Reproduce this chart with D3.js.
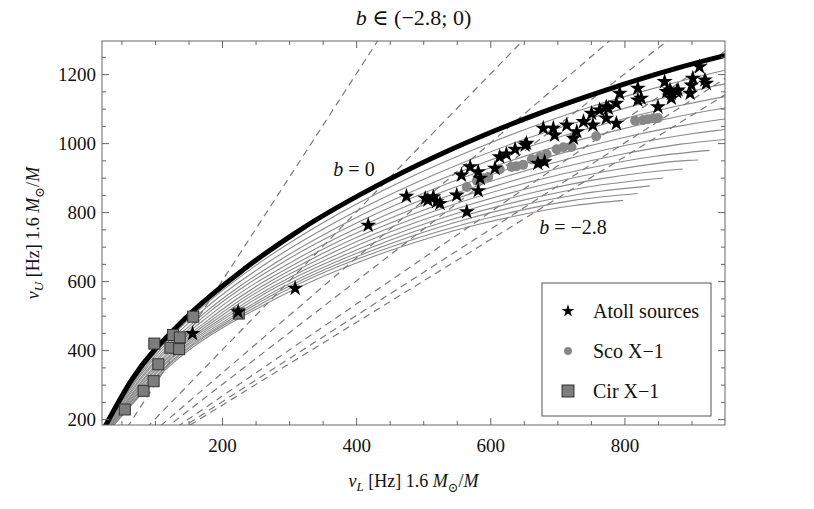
<!DOCTYPE html>
<html>
<head>
<meta charset="utf-8">
<script src="https://cdn.jsdelivr.net/npm/d3@7"></script>
<style>
  body { margin: 0; background: #ffffff; }
  text { font-family: "Liberation Serif", "DejaVu Serif", serif; fill: #111; }
</style>
</head>
<body>
<div id="chart"></div>
<script>
// tidal charge values of the model curves
var bValues = [0, -0.2, -0.4, -0.6, -0.8, -1.0, -1.2, -1.4, -1.6, -1.8, -2.0, -2.2, -2.4, -2.6, -2.8];

// [nuL, nuU] points along each curve, same order as bValues
var curves = [
  [[21,162],[66,316],[142,486],[235,638],[316,748],[446,892],[543,983],[678,1090],[768,1151],[880,1218],[998,1277]],
  [[22,162],[70,317],[151,490],[250,645],[339,756],[483,903],[594,996],[751,1106],[837,1155],[945,1209],[1053,1252]],
  [[23,163],[73,319],[159,494],[266,651],[363,764],[523,914],[648,1009],[732,1062],[838,1121],[919,1159],[985,1185]],
  [[23,164],[76,321],[168,498],[283,657],[388,772],[565,925],[710,1022],[788,1065],[888,1111],[990,1149]],
  [[24,164],[80,323],[176,502],[299,664],[413,780],[611,936],[782,1034],[855,1067],[950,1102],[1051,1126]],
  [[25,165],[83,325],[185,506],[317,670],[440,788],[532,861],[662,946],[732,984],[819,1025],[875,1047],[946,1069],[1022,1085]],
  [[26,165],[87,327],[194,509],[334,676],[468,796],[571,870],[721,957],[808,996],[876,1020],[939,1037],[1000,1048]],
  [[27,166],[90,329],[203,513],[352,682],[498,804],[613,879],[708,930],[794,967],[884,997],[952,1011]],
  [[28,167],[94,331],[212,517],[371,688],[530,812],[660,888],[755,931],[846,962],[927,979]],
  [[29,167],[97,333],[222,521],[391,694],[565,819],[680,880],[786,923],[896,950],[910,951]],
  [[30,168],[101,335],[231,525],[411,699],[553,798],[664,857],[766,897],[873,923],[887,925]],
  [[31,169],[104,337],[241,528],[432,705],[541,778],[648,834],[745,873],[858,899]],
  [[32,169],[108,338],[250,532],[455,711],[551,772],[647,820],[733,852],[838,876]],
  [[33,170],[111,340],[260,536],[479,717],[561,765],[645,805],[724,834],[820,854]],
  [[33,170],[115,342],[270,539],[421,668],[504,722],[571,759],[643,791],[725,819],[798,834]]
];

// frequency ratios nuU : nuL of the dashed lines
var ratios = [[3,1],[2,1],[5,3],[3,2],[4,3],[5,4],[6,5]];

// atoll sources [nuL, nuU]
var atoll = [
  [156,448],[224,511],[309,579],[418,762],[475,846],[503,840],[507,835],[515,844],[520,830],[525,825],
  [550,849],[557,907],[570,931],[582,917],[585,898],[582,862],[565,801],[607,927],[614,960],[624,968],
  [637,982],[652,994],[654,999],[671,941],[681,946],[679,1043],[694,1043],[696,1023],[714,1052],[724,1014],
  [729,1033],[739,1062],[751,1086],[753,1052],[763,1096],[773,1072],[776,1101],[773,1105],[788,1057],[788,1115],
  [793,1144],[820,1159],[820,1125],[825,1130],[850,1105],[860,1178],[863,1149],[868,1154],[870,1144],[870,1130],
  [878,1149],[880,1154],[898,1144],[902,1188],[900,1168],[912,1221],[920,1183],[922,1173]
];

// Sco X-1 [nuL, nuU]
var scoX1 = [
  [565,873],[580,891],[589,898],[597,902],[614,924],[632,931],[639,933],[649,937],[662,953],[674,960],
  [684,968],[699,982],[709,988],[721,989],[724,1017],[758,1020],[816,1065],[828,1067],[835,1069],[843,1072],[850,1073]
];

// Cir X-1 [nuL, nuU]
var cirX1 = [
  [55,228],[83,282],[98,310],[99,419],[105,359],[123,407],[127,444],[137,437],[136,403],[157,497],[225,506]
];

var xMajor = [200, 400, 600, 800];
var xMinor = [50, 100, 150, 250, 300, 350, 450, 500, 550, 650, 700, 750, 850, 900];
var yMajor = [200, 400, 600, 800, 1000, 1200];
var yMinor = [250, 300, 350, 450, 500, 550, 650, 700, 750, 850, 900, 950, 1050, 1100, 1150, 1250];

var legendItems = ["Atoll sources", "Sco X\u22121", "Cir X\u22121"];

(function() {
  var margin = { top: 41, left: 102, right: 89, bottom: 84 },
  width = 814 - margin.left - margin.right,
  height = 509 - margin.top - margin.bottom;

  var svg = d3.select("#chart")
        .append("svg")
        .attr("width", 814)
        .attr("height", 509)
        .append("g")
        .attr("transform", "translate(" + margin.left + "," + margin.top + ")");

  var xPositionScale = d3.scaleLinear().domain([21, 950]).range([0, width]);
  var yPositionScale = d3.scaleLinear().domain([183, 1296]).range([height, 0]);

  svg.append("clipPath")
    .attr("id", "plot-clip")
    .append("rect")
    .attr("width", width)
    .attr("height", height);

  var plot = svg.append("g").attr("clip-path", "url(#plot-clip)");

  var line = d3.line()
    .x(function(d) { return xPositionScale(d[0]); })
    .y(function(d) { return yPositionScale(d[1]); })
    .curve(d3.curveMonotoneX);

  // thin curves for b < 0
  plot.selectAll(".b-curve")
    .data(curves.slice(1))
    .enter().append("path")
    .attr("class", "b-curve")
    .attr("d", line)
    .attr("fill", "none")
    .attr("stroke", "#8a8a8a")
    .attr("stroke-width", 1.1);

  // resonance lines
  plot.selectAll(".ratio-line")
    .data(ratios)
    .enter().append("line")
    .attr("class", "ratio-line")
    .attr("x1", xPositionScale(0))
    .attr("y1", yPositionScale(0))
    .attr("x2", function(d) { return xPositionScale(1000); })
    .attr("y2", function(d) { return yPositionScale(1000 * d[0] / d[1]); })
    .attr("stroke", "#7a7a7a")
    .attr("stroke-width", 1.2)
    .style("stroke-dasharray", "7,5");

  // b = 0
  plot.append("path")
    .datum(curves[0])
    .attr("d", line)
    .attr("fill", "none")
    .attr("stroke", "black")
    .attr("stroke-width", 5);

  var star = d3.symbol().type(d3.symbolStar).size(80);
  var starSmall = d3.symbol().type(d3.symbolStar).size(50);

  plot.selectAll(".cir")
    .data(cirX1)
    .enter().append("rect")
    .attr("class", "cir")
    .attr("x", function(d) { return xPositionScale(d[0]) - 5.5; })
    .attr("y", function(d) { return yPositionScale(d[1]) - 5.5; })
    .attr("width", 11)
    .attr("height", 11)
    .attr("fill", "#7d7d7d")
    .attr("stroke", "#333")
    .attr("stroke-width", 1);

  plot.selectAll(".sco")
    .data(scoX1)
    .enter().append("circle")
    .attr("class", "sco")
    .attr("cx", function(d) { return xPositionScale(d[0]); })
    .attr("cy", function(d) { return yPositionScale(d[1]); })
    .attr("r", 5)
    .attr("fill", "#888");

  plot.selectAll(".atoll")
    .data(atoll)
    .enter().append("path")
    .attr("class", "atoll")
    .attr("d", star)
    .attr("transform", function(d) {
      return "translate(" + xPositionScale(d[0]) + "," + yPositionScale(d[1]) + ")";
    })
    .attr("fill", "black");

  // frame and ticks
  function styleAxis(g) {
    g.select(".domain").remove();
    g.selectAll("line").attr("stroke", "#666");
    g.selectAll("text")
      .style("font-family", "Liberation Serif, serif")
      .style("font-size", "19px")
      .attr("fill", "#111");
  }

  var fmt = d3.format("d");

  svg.append("g")
    .attr("transform", "translate(0," + height + ")")
    .call(d3.axisBottom(xPositionScale).tickValues(xMajor).tickFormat(fmt).tickSizeInner(-7).tickSizeOuter(0).tickPadding(14))
    .call(styleAxis);
  svg.append("g")
    .attr("transform", "translate(0," + height + ")")
    .call(d3.axisBottom(xPositionScale).tickValues(xMinor).tickSizeInner(-4).tickSizeOuter(0).tickFormat(""))
    .call(styleAxis);
  svg.append("g")
    .call(d3.axisTop(xPositionScale).tickValues(xMajor).tickSizeInner(-7).tickSizeOuter(0).tickFormat(""))
    .call(styleAxis);
  svg.append("g")
    .call(d3.axisTop(xPositionScale).tickValues(xMinor).tickSizeInner(-4).tickSizeOuter(0).tickFormat(""))
    .call(styleAxis);

  svg.append("g")
    .call(d3.axisLeft(yPositionScale).tickValues(yMajor).tickFormat(fmt).tickSizeInner(-7).tickSizeOuter(0).tickPadding(6))
    .call(styleAxis);
  svg.append("g")
    .call(d3.axisLeft(yPositionScale).tickValues(yMinor).tickSizeInner(-4).tickSizeOuter(0).tickFormat(""))
    .call(styleAxis);
  svg.append("g")
    .attr("transform", "translate(" + width + ",0)")
    .call(d3.axisRight(yPositionScale).tickValues(yMajor).tickSizeInner(-7).tickSizeOuter(0).tickFormat(""))
    .call(styleAxis);
  svg.append("g")
    .attr("transform", "translate(" + width + ",0)")
    .call(d3.axisRight(yPositionScale).tickValues(yMinor).tickSizeInner(-4).tickSizeOuter(0).tickFormat(""))
    .call(styleAxis);

  svg.append("rect")
    .attr("width", width)
    .attr("height", height)
    .attr("fill", "none")
    .attr("stroke", "#666")
    .attr("stroke-width", 1);

  // curve annotations
  var annot0 = svg.append("text")
    .attr("x", 252)
    .attr("y", 135)
    .attr("text-anchor", "middle")
    .style("font-size", "20px");
  annot0.append("tspan").style("font-style", "italic").text("b");
  annot0.append("tspan").text(" = 0");

  var annot1 = svg.append("text")
    .attr("x", 471)
    .attr("y", 193)
    .attr("text-anchor", "middle")
    .style("font-size", "20px");
  annot1.append("tspan").style("font-style", "italic").text("b");
  annot1.append("tspan").text(" = \u22122.8");

  // legend
  var legend = svg.append("g")
    .attr("class", "legend")
    .attr("transform", "translate(" + (542 - margin.left) + "," + (283 - margin.top) + ")");
  legend.append("rect")
    .attr("width", 169)
    .attr("height", 133)
    .attr("fill", "white")
    .attr("stroke", "#555")
    .attr("stroke-width", 1);

  legend.append("path")
    .attr("d", starSmall)
    .attr("transform", "translate(26,28)")
    .attr("fill", "black");
  legend.append("circle")
    .attr("cx", 26)
    .attr("cy", 68)
    .attr("r", 4)
    .attr("fill", "#888");
  legend.append("rect")
    .attr("x", 20)
    .attr("y", 102)
    .attr("width", 12)
    .attr("height", 12)
    .attr("fill", "#7d7d7d")
    .attr("stroke", "#333");

  legend.selectAll(".legend-text")
    .data(legendItems)
    .enter().append("text")
    .attr("class", "legend-text")
    .attr("x", 51)
    .attr("y", function(d, i) { return 35 + i * 40; })
    .style("font-size", "20px")
    .text(function(d) { return d; });

  // title
  var title = svg.append("text")
    .attr("x", width / 2)
    .attr("y", -16)
    .attr("text-anchor", "middle")
    .style("font-size", "22px");
  title.append("tspan").style("font-style", "italic").text("b");
  title.append("tspan").text(" \u2208 (\u22122.8; 0)");

  // axis titles
  function axisTitle(sel, sub) {
    sel.append("tspan").style("font-style", "italic").text("\u03bd");
    sel.append("tspan").style("font-style", "italic").style("font-size", "13px").attr("dy", 4).text(sub);
    sel.append("tspan").attr("dy", -4).text(" [Hz] 1.6 ");
    sel.append("tspan").style("font-style", "italic").text("M");
    sel.append("tspan").style("font-size", "13px").attr("dy", 5).text("\u2299");
    sel.append("tspan").attr("dy", -5).text("/");
    sel.append("tspan").style("font-style", "italic").text("M");
  }

  var xTitle = svg.append("text")
    .attr("x", width / 2)
    .attr("y", height + 62)
    .attr("text-anchor", "middle")
    .style("font-size", "18px");
  axisTitle(xTitle, "L");

  var yTitle = svg.append("text")
    .attr("transform", "translate(-63," + (height / 2) + ") rotate(-90)")
    .attr("text-anchor", "middle")
    .style("font-size", "18px");
  axisTitle(yTitle, "U");
})();
</script>
</body>
</html>
